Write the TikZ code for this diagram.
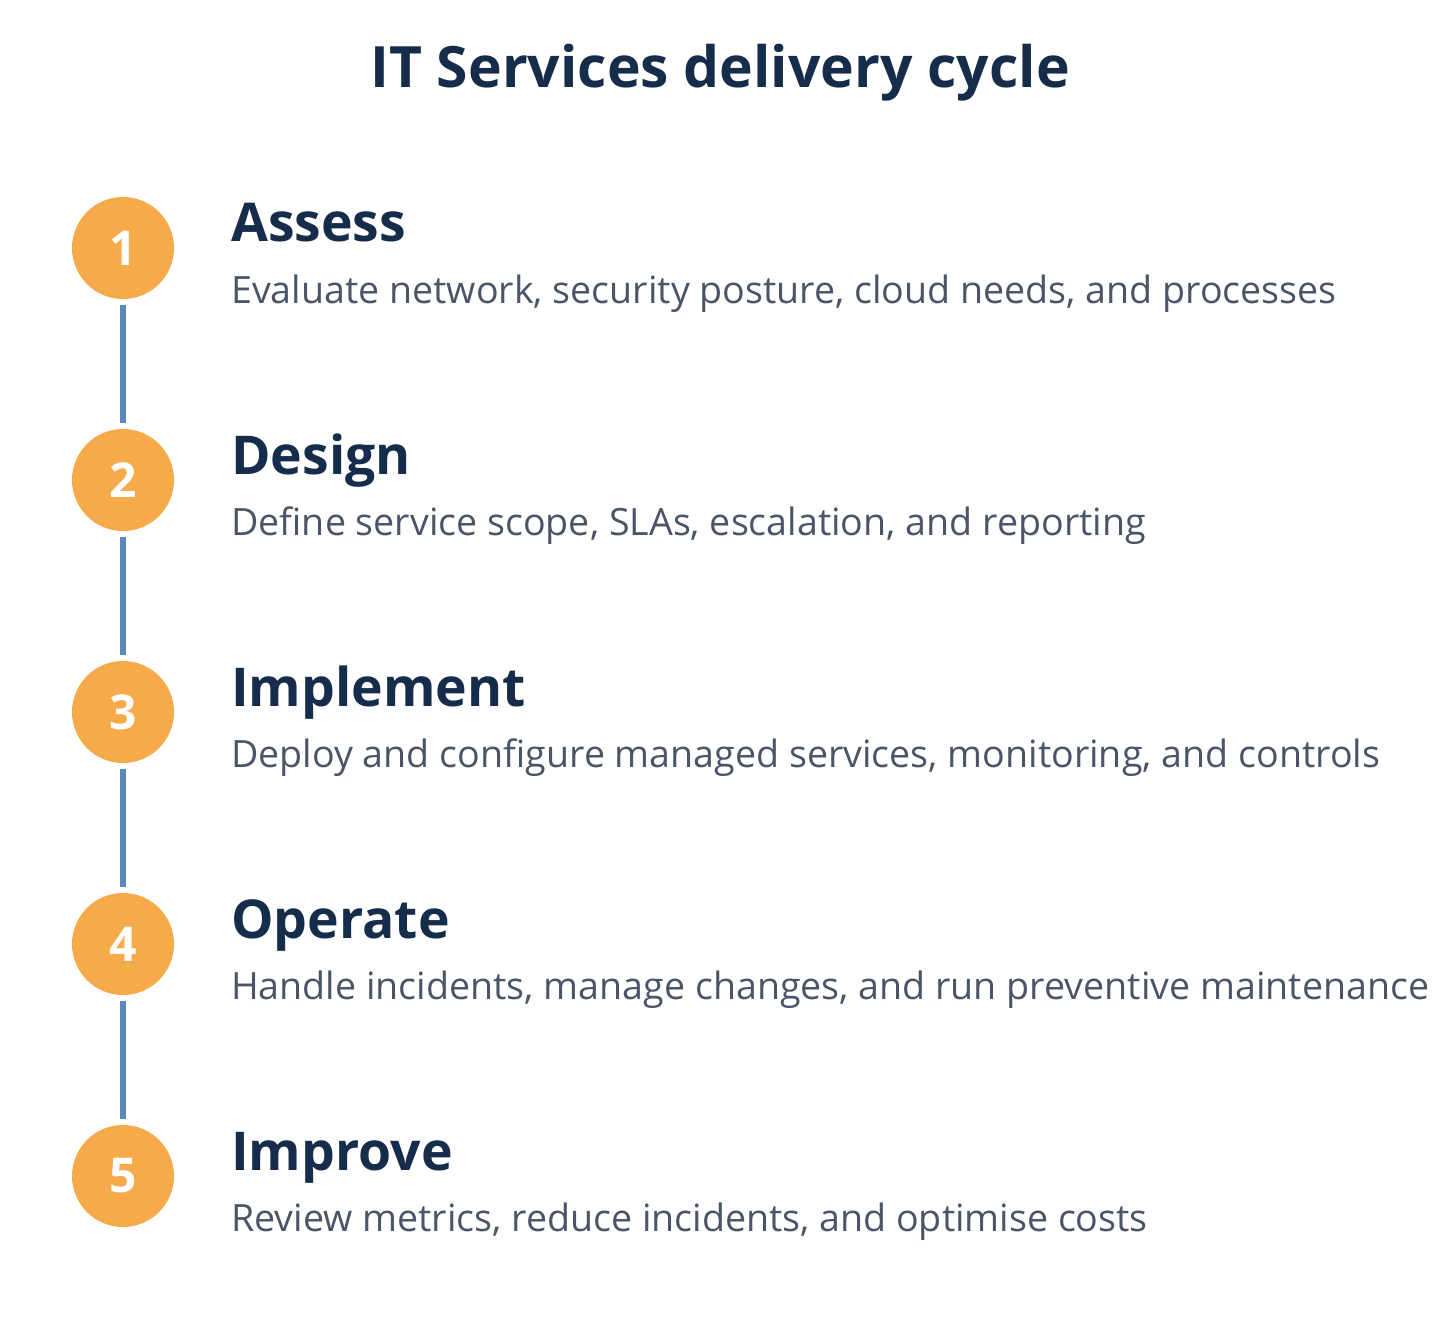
\documentclass[tikz,border=0pt]{standalone}
\usepackage{fontspec}
\setmainfont{Open Sans}
\usepackage{tikz}
\usetikzlibrary{positioning,calc}
\definecolor{navy}{HTML}{152C4A}
\definecolor{slate}{HTML}{4A5568}
\definecolor{orangec}{HTML}{F6AA4A}
\definecolor{linkblue}{HTML}{5B87BB}
\tikzstyle{numero} = [circle, fill=orangec, minimum size=102pt, inner sep=0pt, text=white, font=\bfseries\fontsize{48}{48}\selectfont]
\tikzstyle{titolo} = [anchor=base west, inner sep=0pt, text=navy, font=\bfseries\fontsize{53.5}{54}\selectfont]
\tikzstyle{testo} = [anchor=base west, inner sep=0pt, text=slate, font=\fontsize{37.6}{38}\selectfont]
\tikzstyle{link} = [draw=linkblue, line width=5.5pt, shorten >=6pt, shorten <=6pt]

\begin{document}
\begin{tikzpicture}[x=1pt,y=-1pt]
						\useasboundingbox (0,0) rectangle (1440,1324);
						\node[anchor=base, inner sep=0pt, text=navy, font=\bfseries\fontsize{57}{57}\selectfont] (title) at (720,88) {IT Services delivery cycle};
						\node (n1) at (123,248) [numero] {1};
						\node (n2) at (123,480) [numero] {2};
						\node (n3) at (123,712) [numero] {3};
						\node (n4) at (123,944) [numero] {4};
						\node (n5) at (123,1176) [numero] {5};
						\draw[link] (n1) -- (n2);
						\draw[link] (n2) -- (n3);
						\draw[link] (n3) -- (n4);
						\draw[link] (n4) -- (n5);
						\node (h1) at (231,242) [titolo] {Assess};
						\node (d1) at (231,303) [testo] {Evaluate network, security posture, cloud needs, and processes};
						\node (h2) at (231,474) [titolo] {Design};
						\node (d2) at (231,535) [testo] {Define service scope, SLAs, escalation, and reporting};
						\node (h3) at (231,706) [titolo] {Implement};
						\node (d3) at (231,767) [testo] {Deploy and configure managed services, monitoring, and controls};
						\node (h4) at (231,938) [titolo] {Operate};
						\node (d4) at (231,999) [testo] {Handle incidents, manage changes, and run preventive maintenance};
						\node (h5) at (231,1170) [titolo] {Improve};
						\node (d5) at (231,1231) [testo] {Review metrics, reduce incidents, and optimise costs};
					\end{tikzpicture}
\end{document}
